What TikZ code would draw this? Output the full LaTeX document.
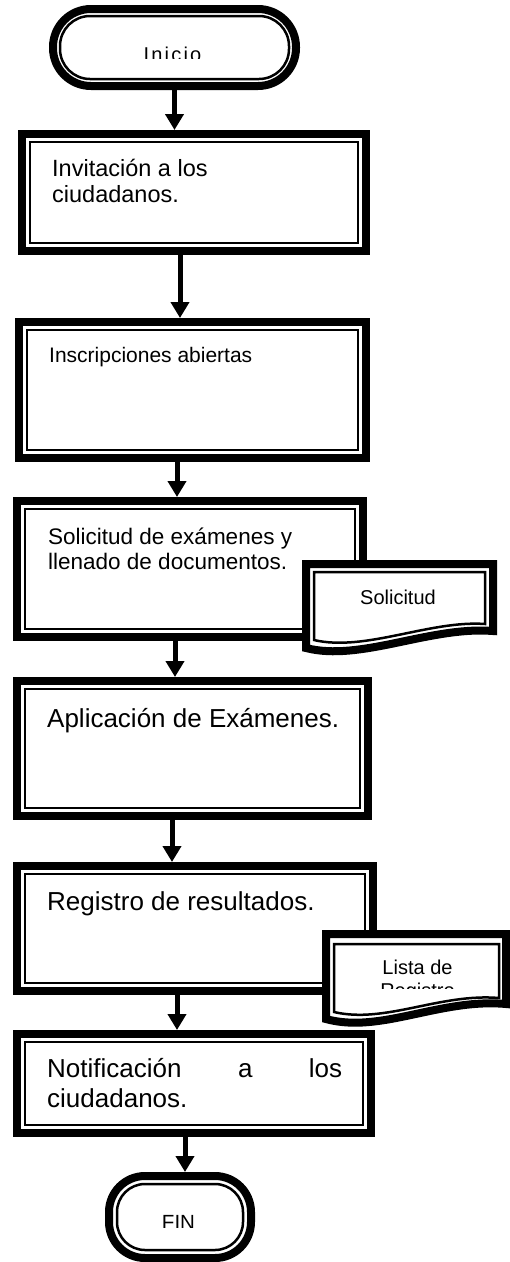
\documentclass[tikz,border=0pt]{standalone}
\usepackage{fontspec}
\setmainfont{Liberation Sans}
\newfontfamily\spacedfont[LetterSpace=11]{Liberation Sans}
\usetikzlibrary{arrows.meta}
\begin{document}
\begin{tikzpicture}[x=1pt,y=-1pt,
  procbox/.style={draw,line width=8pt,fill=white,rectangle,inner sep=0pt,outer sep=4pt,anchor=north west},
  termbox/.style={procbox,rounded corners=#1},
  innerline/.style={line width=2.5pt},
  docline/.style={line width=8pt,fill=white},
  arr/.style={line width=5pt,-{Triangle[width=18pt,length=16pt]}},
  txt/.style={inner sep=0pt,anchor=base west,align=left},
]
\useasboundingbox (0,0) rectangle (510,1262);

% Inicio
\node[termbox=38pt, minimum width=243pt, minimum height=77pt] (ini) at (49,5) {};
\draw[innerline,rounded corners=30pt] ([shift={(11,11)}]ini.north west) rectangle ([shift={(-11,-11)}]ini.south east);
\begin{scope}
  \clip (60,15) rectangle (290,58);
  \node[inner sep=0pt,anchor=base,font=\spacedfont\fontsize{20}{24}\selectfont] (initxt) at (172.5,61) {Inicio};
\end{scope}

% Box 1
\node[procbox, minimum width=344pt, minimum height=117pt] (b1) at (18,130) {};
\draw[innerline] ([shift={(12,12)}]b1.north west) rectangle ([shift={(-12,-12)}]b1.south east);
\node[txt,font=\fontsize{23.5}{26}\selectfont] (t1) at (52,202) {Invitación a los\\ciudadanos.};

% Box 2
\node[procbox, minimum width=347pt, minimum height=136pt] (b2) at (15,318) {};
\draw[innerline] ([shift={(12,12)}]b2.north west) rectangle ([shift={(-12,-12)}]b2.south east);
\node[txt,font=\fontsize{21}{24}\selectfont] (t2) at (49,362) {Inscripciones abiertas};

% Box 3
\node[procbox, minimum width=346pt, minimum height=136pt] (b3) at (13,497) {};
\draw[innerline] ([shift={(12,12)}]b3.north west) rectangle ([shift={(-12,-12)}]b3.south east);
\node[txt,font=\fontsize{22.5}{25}\selectfont] (t3) at (48,569) {Solicitud de exámenes y\\llenado de documentos.};

% Document Solicitud
\draw[docline] (306,564) -- (493,564) -- (493,631) .. controls (430,626) and (360,662) .. (306,648) -- cycle;
\draw[innerline] (314,572) -- (485,572) -- (485,624) .. controls (430,620) and (365,652) .. (314,640) -- cycle;
\node[inner sep=0pt,anchor=base,font=\fontsize{20}{23}\selectfont] (sol) at (398,604) {Solicitud};

% Box 4
\node[procbox, minimum width=351pt, minimum height=135pt] (b4) at (13,677) {};
\draw[innerline] ([shift={(12,12)}]b4.north west) rectangle ([shift={(-12,-12)}]b4.south east);
\node[txt,font=\fontsize{26}{30}\selectfont] (t4) at (47,727) {Aplicación de Exámenes.};

% Box 5
\node[procbox, minimum width=356pt, minimum height=125pt] (b5) at (13,862) {};
\draw[innerline] ([shift={(12,12)}]b5.north west) rectangle ([shift={(-12,-12)}]b5.south east);
\node[txt,font=\fontsize{26}{30}\selectfont] (t5) at (47,910) {Registro de resultados.};

% Document Lista de Registro
\draw[docline] (326,934) -- (506,934) -- (506,1004) .. controls (440,998) and (380,1034) .. (326,1019) -- cycle;
\draw[innerline] (334,944) -- (499,944) -- (499,998) .. controls (440,993) and (385,1024) .. (334,1012) -- cycle;
\begin{scope}
  \clip (334,946) rectangle (498,988);
  \node[inner sep=0pt,anchor=base,align=center,font=\fontsize{20}{23}\selectfont] (lista) at (417.5,997) {Lista de\\Registro};
\end{scope}

% Box 6
\node[procbox, minimum width=354pt, minimum height=99pt] (b6) at (13,1030) {};
\draw[innerline] ([shift={(12,12)}]b6.north west) rectangle ([shift={(-12,-12)}]b6.south east);
\node[txt,text width=295pt,font=\fontsize{26}{30}\selectfont] (t6) at (47,1077) {Notificación\hfill a\hfill los\\ciudadanos.};

% FIN
\node[termbox=36pt, minimum width=142pt, minimum height=82pt] (fin) at (105,1172) {};
\draw[innerline,rounded corners=28pt] ([shift={(12,12)}]fin.north west) rectangle ([shift={(-12,-12)}]fin.south east);
\begin{scope}
  \clip (118,1185) rectangle (242,1227);
  \node[inner sep=0pt,anchor=base,font=\fontsize{20.5}{24}\selectfont] (fintxt) at (178.5,1229) {FIN};
\end{scope}

% Arrows
\draw[arr] (ini.south) coordinate (a0) -- (a0 |- b1.north);
\draw[arr] ([xshift=-14pt]b1.south) coordinate (a1) -- (a1 |- b2.north);
\draw[arr] ([xshift=-15.5pt]b2.south) coordinate (a2) -- (a2 |- b3.north);
\draw[arr] ([xshift=-15pt]b3.south) coordinate (a3) -- (a3 |- b4.north);
\draw[arr] ([xshift=-20.5pt]b4.south) coordinate (a4) -- (a4 |- b5.north);
\draw[arr] ([xshift=-18pt]b5.south) coordinate (a5) -- (a5 |- b6.north);
\draw[arr] ([xshift=-9pt]b6.south) coordinate (a6) -- (a6 |- fin.north);
\end{tikzpicture}
\end{document}
